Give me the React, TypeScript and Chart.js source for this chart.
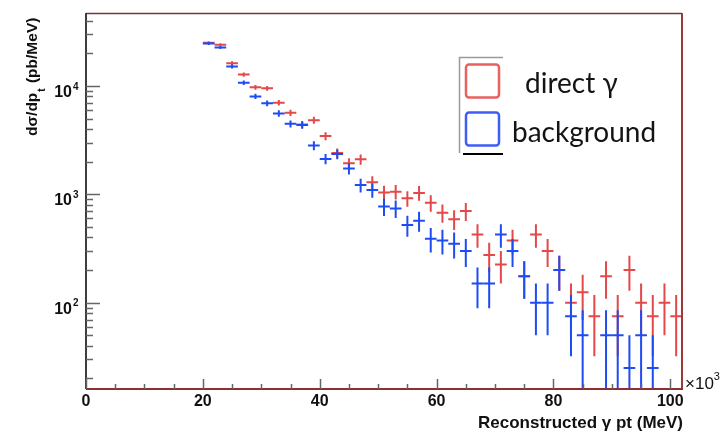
import React, { useEffect, useRef } from "react";
import { Chart, registerables } from "chart.js";

Chart.register(...registerables);

// ---- data ----
const binCenters = [21, 23, 25, 27, 29, 31, 33, 35, 37, 39, 41, 43, 45, 47, 49, 51, 53, 55, 57, 59, 61, 63, 65, 67, 69, 71, 73, 75, 77, 79, 81, 83, 85, 87, 89, 91, 93, 95, 97, 99, 101];
const binHalfWidth = 1;

const directGamma = [25000, 24000, 16200, 12700, 9700, 9500, 7000, 5650, 4400, 4830, 3440, 2400, 1930, 2100, 1290, 1040, 1055, 917, 1030, 835, 675, 590, 700, 425, 275, 225, 375, 175, 425, 300, 200, 100, 125, 75, 175, 75, 200, 100, 75, 100, 75];
const directGammaErr = [791, 775, 636, 563, 492, 487, 418, 376, 332, 347, 293, 245, 220, 229, 180, 161, 162, 151, 160, 144, 130, 121, 132, 103, 83, 75, 97, 66, 103, 87, 71, 50, 56, 43, 66, 43, 71, 50, 43, 50, 43];

const background = [24600, 22600, 15100, 10700, 8000, 6900, 5570, 4470, 4350, 2820, 2120, 2350, 1730, 1215, 1095, 770, 740, 520, 570, 390, 375, 350, 300, 150, 150, 425, 300, 175, 100, 100, 200, 75, 50, null, 50, 50, 25, 50, 25, null, null];
const backgroundErr = [784, 752, 614, 517, 447, 415, 373, 334, 330, 266, 230, 242, 208, 174, 165, 139, 136, 114, 119, 99, 97, 94, 87, 61, 61, 103, 87, 66, 50, 50, 71, 43, 35, 0, 35, 35, 25, 35, 25, 0, 0];

const xTickValues = [0, 20, 40, 60, 80, 100];
const xTickLabels = ["0", "20", "40", "60", "80", "100"];
const yTickValues = [100, 1000, 10000];
const yTickExponents = ["2", "3", "4"];

const legendLabels = ["direct \u03b3", "background"];
const xTitle = "Reconstructed \u03b3 pt (MeV)";
const xMultiplier = "\u00d710";
const xMultiplierExp = "3";

const RED = "#e44848";
const BLUE = "#1f4cf2";

type P = { x: number; y: number | null; err: number };

const toPoints = (vals: (number | null)[], errs: number[]): P[] =>
  binCenters.map((c, i) => ({ x: c, y: vals[i], err: errs[i] }));

const rootPlugin = {
  id: "rootStyle",
  afterDatasetsDraw(chart: any) {
    const { ctx, chartArea: a } = chart;
    const xs = chart.scales.x;
    const ys = chart.scales.y;
    ctx.save();
    ctx.beginPath();
    ctx.rect(a.left, a.top, a.right - a.left, a.bottom - a.top);
    ctx.clip();
    chart.data.datasets.forEach((ds: any) => {
      ctx.strokeStyle = ds.borderColor;
      ctx.lineWidth = 2;
      ds.data.forEach((p: P) => {
        if (p.y == null) return;
        const px = xs.getPixelForValue(p.x);
        const py = ys.getPixelForValue(p.y);
        const x0 = xs.getPixelForValue(p.x - binHalfWidth);
        const x1 = xs.getPixelForValue(p.x + binHalfWidth);
        const lo = p.y - p.err;
        const ylo = lo > 0 ? ys.getPixelForValue(lo) : a.bottom + 2;
        const yhi = ys.getPixelForValue(p.y + p.err);
        ctx.beginPath();
        ctx.moveTo(x0, py);
        ctx.lineTo(x1, py);
        ctx.moveTo(px, ylo);
        ctx.lineTo(px, yhi);
        ctx.stroke();
      });
    });
    ctx.restore();
  },
  afterDraw(chart: any) {
    const { ctx, chartArea: a } = chart;
    const xs = chart.scales.x;
    const ys = chart.scales.y;
    ctx.save();
    // frame
    ctx.lineWidth = 1.5;
    ctx.strokeStyle = "#6b3b3b";
    ctx.beginPath();
    ctx.moveTo(a.left, a.top + 0.5);
    ctx.lineTo(a.right, a.top + 0.5);
    ctx.stroke();
    ctx.strokeStyle = "#9a3a3a";
    ctx.lineWidth = 2;
    ctx.beginPath();
    ctx.moveTo(a.right, a.top);
    ctx.lineTo(a.right, a.bottom);
    ctx.stroke();
    ctx.strokeStyle = "#8e2f2f";
    ctx.beginPath();
    ctx.moveTo(a.left, a.bottom);
    ctx.lineTo(a.right + 1, a.bottom);
    ctx.stroke();
    ctx.strokeStyle = "#3d3d3d";
    ctx.beginPath();
    ctx.moveTo(a.left, a.top);
    ctx.lineTo(a.left, a.bottom);
    ctx.stroke();

    // y ticks (log)
    ctx.strokeStyle = "#666";
    ctx.lineWidth = 1.5;
    for (let d = 1; d <= 4; d++) {
      for (let m = 1; m <= 9; m++) {
        const v = m * Math.pow(10, d);
        if (v < ys.min || v > ys.max) continue;
        const py = Math.round(ys.getPixelForValue(v)) + 0.5;
        ctx.beginPath();
        ctx.moveTo(a.left, py);
        ctx.lineTo(a.left + (m === 1 ? 14 : 7), py);
        ctx.stroke();
      }
    }
    // x ticks
    for (let v = 0; v <= 100; v += 5) {
      const px = Math.round(xs.getPixelForValue(v)) + 0.5;
      ctx.beginPath();
      ctx.moveTo(px, a.bottom);
      ctx.lineTo(px, a.bottom - (v % 20 === 0 ? 10 : 5));
      ctx.stroke();
    }

    // x labels
    ctx.fillStyle = "#111";
    ctx.font = "bold 16px 'Liberation Sans', Arial, sans-serif";
    ctx.textAlign = "center";
    ctx.textBaseline = "middle";
    xTickValues.forEach((v, i) => {
      ctx.fillText(xTickLabels[i], xs.getPixelForValue(v), a.bottom + 13);
    });
    // y labels
    yTickValues.forEach((v, i) => {
      const py = ys.getPixelForValue(v);
      ctx.font = "bold 16px 'Liberation Sans', Arial, sans-serif";
      ctx.textAlign = "right";
      ctx.fillText("10", 72, py + 6.5);
      ctx.font = "bold 10px 'Liberation Sans', Arial, sans-serif";
      ctx.textAlign = "left";
      ctx.fillText(yTickExponents[i], 73, py + 1);
    });

    // x multiplier
    ctx.font = "17px 'Liberation Sans', Arial, sans-serif";
    ctx.textAlign = "left";
    ctx.fillText(xMultiplier, a.right + 3, a.bottom - 5);
    const mw = ctx.measureText(xMultiplier).width;
    ctx.font = "11px 'Liberation Sans', Arial, sans-serif";
    ctx.fillText(xMultiplierExp, a.right + 3 + mw, a.bottom - 12);

    // x title
    ctx.font = "bold 17px 'Liberation Sans', Arial, sans-serif";
    ctx.textAlign = "right";
    ctx.fillText(xTitle, a.right + 1, 423);

    // y title (rotated)
    ctx.save();
    ctx.translate(33, 136);
    ctx.rotate(-Math.PI / 2);
    ctx.textAlign = "left";
    ctx.textBaseline = "middle";
    ctx.font = "bold 15.5px 'Liberation Sans', Arial, sans-serif";
    const p1 = "d\u03c3/dp";
    ctx.fillText(p1, 0, 0);
    let w = ctx.measureText(p1).width;
    ctx.font = "bold 10px 'Liberation Sans', Arial, sans-serif";
    ctx.fillText("t", w + 1, 9);
    w += ctx.measureText("t").width + 2;
    ctx.font = "bold 15.5px 'Liberation Sans', Arial, sans-serif";
    ctx.fillText(" (pb/MeV)", w, 0);
    ctx.restore();

    // legend
    ctx.strokeStyle = "#9a9a9a";
    ctx.lineWidth = 1.5;
    ctx.beginPath();
    ctx.moveTo(503, 57.5);
    ctx.lineTo(459.5, 57.5);
    ctx.lineTo(459.5, 153);
    ctx.stroke();
    ctx.strokeStyle = "#000";
    ctx.lineWidth = 2;
    ctx.beginPath();
    ctx.moveTo(463, 154);
    ctx.lineTo(503, 154);
    ctx.stroke();
    const box = (y: number, c: string) => {
      ctx.strokeStyle = c;
      ctx.lineWidth = 2.5;
      ctx.beginPath();
      (ctx as any).roundRect(466, y, 33, 33, 3);
      ctx.stroke();
    };
    box(64.5, "#e86262");
    box(112.5, "#3f5ef5");
    ctx.fillStyle = "#141414";
    ctx.font = "28px Lato, 'Open Sans', sans-serif";
    ctx.textAlign = "left";
    ctx.textBaseline = "alphabetic";
    ctx.fillText(legendLabels[0], 525, 93);
    ctx.fillText(legendLabels[1], 512, 142);
    ctx.restore();
  },
};

export default function App() {
  const ref = useRef<HTMLCanvasElement | null>(null);
  useEffect(() => {
    if (!ref.current) return;
    const chart = new Chart(ref.current, {
      type: "scatter",
      data: {
        datasets: [
          { label: legendLabels[0], data: toPoints(directGamma, directGammaErr) as any, borderColor: RED, backgroundColor: RED, pointRadius: 0 },
          { label: legendLabels[1], data: toPoints(background, backgroundErr) as any, borderColor: BLUE, backgroundColor: BLUE, pointRadius: 0 },
        ],
      },
      options: {
        responsive: false,
        animation: false,
        devicePixelRatio: 1,
        layout: { padding: { left: 86, top: 13, right: 38, bottom: 43 } },
        plugins: { legend: { display: false }, tooltip: { enabled: false } },
        scales: {
          x: { type: "linear", min: 0, max: 102, display: false },
          y: { type: "logarithmic", min: 16, max: 47000, display: false },
        },
      },
      plugins: [rootPlugin],
    });
    return () => chart.destroy();
  }, []);
  return (
    <div style={{ position: "fixed", left: 0, top: 0, width: 720, height: 432, background: "#fff" }}>
      <canvas ref={ref} width={720} height={432} />
    </div>
  );
}
